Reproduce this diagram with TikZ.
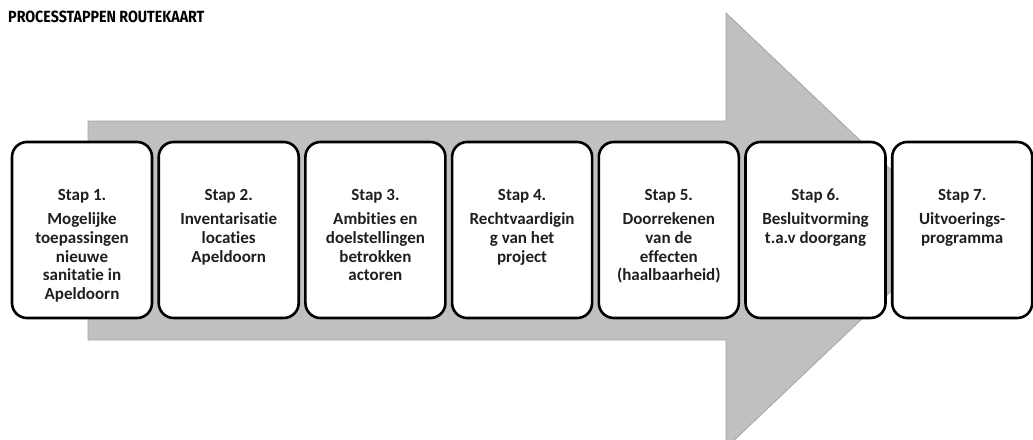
\documentclass[tikz,border=0pt]{standalone}
\usepackage{fontspec}
\setmainfont[Ligatures=NoCommon]{Carlito}
\newfontfamily\titlefont[FakeStretch=0.88]{Fira Sans}
\definecolor{arrowgray}{RGB}{192,192,192}
\definecolor{arrowedge}{RGB}{165,165,165}
\tikzset{
  stepbox/.style={draw=black, line width=2.6pt, fill=white, rounded corners=15pt,
    minimum width=140pt, minimum height=176pt, inner sep=0pt},
  steptext/.style={anchor=north, align=center, inner sep=0pt,
    font=\fontsize{17}{18.6}\selectfont\bfseries, text=black!88}
}
\begin{document}
\begin{tikzpicture}[x=1pt, y=-1pt]
  \useasboundingbox (0,0) rectangle (1033,439);
  % big process arrow behind the steps
  \fill[arrowgray, draw=arrowedge, line width=0.8pt]
    (88,121) -- (726,121) -- (726,13) -- (955,230.5) -- (726,448) -- (726,340) -- (88,340) -- cycle;
  % title
  \node[anchor=west, inner sep=0pt, font=\titlefont\fontsize{16.2}{18}\selectfont\bfseries]
    (title) at (8,17) {PROCESSTAPPEN ROUTEKAART};
  % steps
  \foreach \i/\head/\body in {
    1/Stap 1./{Mogelijke\\toepassingen\\nieuwe\\sanitatie in\\Apeldoorn},
    2/Stap 2./{Inventarisatie\\locaties\\Apeldoorn},
    3/Stap 3./{Ambities en\\doelstellingen\\betrokken\\actoren},
    4/Stap 4./{Rechtvaardigin\\g van het\\project},
    5/Stap 5./{Doorrekenen\\van de\\effecten\\(haalbaarheid)},
    6/Stap 6./{Besluitvorming\\t.a.v doorgang},
    7/Stap 7./{Uitvoerings-\\programma}} {
    \node[stepbox] (b\i) at ({82+146.7*(\i-1)},230) {};
    \node[steptext] (h\i) at ([yshift=-48pt]b\i.north) {\head};
    \node[steptext] (t\i) at ([yshift=-72pt]b\i.north) {\body};
  }
\end{tikzpicture}
\end{document}
